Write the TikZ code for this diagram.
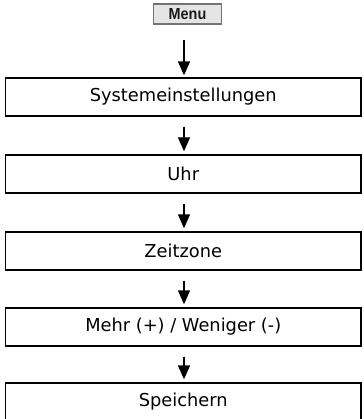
\documentclass[tikz,border=0pt]{standalone}
\usepackage{fontspec}
\setmainfont{DejaVu Sans}
\newfontfamily\menufont{Liberation Sans}
\usetikzlibrary{arrows.meta}
\tikzset{
  stepbox/.style={draw=black, line width=1.4pt, minimum width=355.5pt, minimum height=38pt, inner sep=0pt, font=\fontsize{17.8}{20}\selectfont, text=black},
  menubox/.style={draw=black!55, fill=black!10, line width=1.1pt, minimum width=68pt, minimum height=20pt, inner sep=0pt, text=black!90},
  flow/.style={line width=1.6pt, -{Triangle[width=12pt,length=14pt]}, shorten <=10pt, shorten >=3pt}
}
\begin{document}
\begin{tikzpicture}[x=1pt,y=-1pt]
\useasboundingbox (0,0) rectangle (363,419);
\node[menubox] (m) at (187.5,14) {\menufont\bfseries\fontsize{16}{18}\selectfont\scalebox{0.9}[1]{Menu}};
\node[stepbox] (b1) at (183.25,97) {Systemeinstellungen};
\node[stepbox] (b2) at (183.25,174) {Uhr};
\node[stepbox] (b3) at (183.25,251) {Zeitzone};
\node[stepbox] (b4) at (183.25,327) {Mehr (+) / Weniger (-)};
\node[stepbox] (b5) at (183.25,402) {Speichern};
\coordinate (a0) at (184,24);
\draw[flow, shorten <=16pt, shorten >=2pt] (a0) -- (a0 |- b1.north);
\draw[flow] (b1.south -| a0) -- (b2.north -| a0);
\draw[flow] (b2.south -| a0) -- (b3.north -| a0);
\draw[flow] (b3.south -| a0) -- (b4.north -| a0);
\draw[flow] (b4.south -| a0) -- (b5.north -| a0);
\end{tikzpicture}
\end{document}
